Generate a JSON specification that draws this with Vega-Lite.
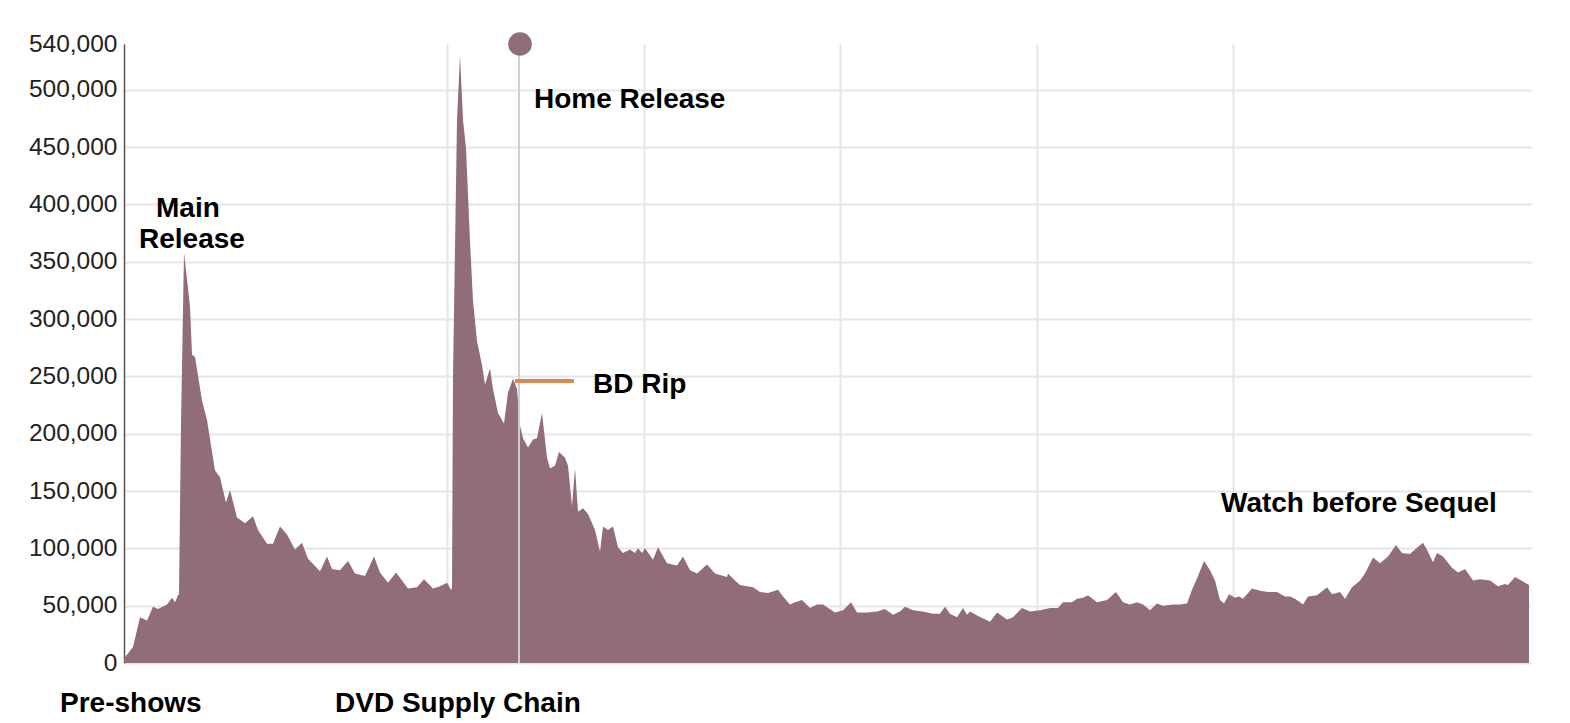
{
  "$schema": "https://vega.github.io/schema/vega-lite/v6.json",
  "width": 1407,
  "height": 619,
  "autosize": {"type": "none"},
  "padding": {"left": 124, "top": 44, "right": 39, "bottom": 60},
  "background": "white",
  "config": {"view": {"stroke": null}, "font": "Liberation Sans"},
  "datasets": {
    "series": [
      {"day":0,"views":4000},{"day":9,"views":14000},{"day":16,"views":40000},{"day":23,"views":37000},{"day":29,"views":49000},{"day":34,"views":47000},{"day":43,"views":51000},{"day":48,"views":57000},{"day":51,"views":53000},{"day":54,"views":59000},{"day":55,"views":60000},{"day":57,"views":209000},{"day":60,"views":358000},{"day":66,"views":311000},{"day":68,"views":269000},{"day":71,"views":267000},{"day":78,"views":229000},{"day":83,"views":212000},{"day":91,"views":168000},{"day":96,"views":162000},{"day":102,"views":140000},{"day":106,"views":151000},{"day":113,"views":127000},{"day":121,"views":122000},{"day":129,"views":128000},{"day":134,"views":116000},{"day":143,"views":104000},{"day":149,"views":104000},{"day":156,"views":119000},{"day":163,"views":112000},{"day":171,"views":99000},{"day":178,"views":105000},{"day":184,"views":91000},{"day":196,"views":80000},{"day":203,"views":93000},{"day":208,"views":82000},{"day":216,"views":81000},{"day":224,"views":89000},{"day":231,"views":78000},{"day":241,"views":76000},{"day":250,"views":93000},{"day":256,"views":79000},{"day":264,"views":70000},{"day":272,"views":79000},{"day":284,"views":65000},{"day":293,"views":66000},{"day":300,"views":73000},{"day":309,"views":65000},{"day":316,"views":67000},{"day":323,"views":70000},{"day":327,"views":64000},{"day":328,"views":65000},{"day":329,"views":250000},{"day":333,"views":474000},{"day":336,"views":530000},{"day":339,"views":474000},{"day":342,"views":449000},{"day":346,"views":368000},{"day":349,"views":316000},{"day":353,"views":281000},{"day":358,"views":260000},{"day":361,"views":243000},{"day":366,"views":257000},{"day":369,"views":239000},{"day":374,"views":218000},{"day":380,"views":209000},{"day":384,"views":236000},{"day":389,"views":248000},{"day":393,"views":239000},{"day":396,"views":207000},{"day":399,"views":196000},{"day":404,"views":188000},{"day":409,"views":195000},{"day":413,"views":196000},{"day":418,"views":218000},{"day":423,"views":179000},{"day":426,"views":170000},{"day":431,"views":172000},{"day":435,"views":184000},{"day":441,"views":179000},{"day":444,"views":172000},{"day":448,"views":137000},{"day":451,"views":170000},{"day":454,"views":132000},{"day":459,"views":135000},{"day":464,"views":130000},{"day":471,"views":116000},{"day":476,"views":97000},{"day":479,"views":119000},{"day":484,"views":116000},{"day":489,"views":119000},{"day":494,"views":101000},{"day":499,"views":96000},{"day":506,"views":99000},{"day":511,"views":96000},{"day":514,"views":100000},{"day":518,"views":96000},{"day":521,"views":100000},{"day":529,"views":90000},{"day":534,"views":101000},{"day":543,"views":87000},{"day":553,"views":85000},{"day":559,"views":93000},{"day":566,"views":81000},{"day":573,"views":78000},{"day":583,"views":86000},{"day":591,"views":78000},{"day":603,"views":75000},{"day":604,"views":78000},{"day":611,"views":72000},{"day":616,"views":68000},{"day":629,"views":66000},{"day":636,"views":62000},{"day":644,"views":61000},{"day":654,"views":64000},{"day":659,"views":58000},{"day":666,"views":51000},{"day":671,"views":53000},{"day":678,"views":55000},{"day":686,"views":48000},{"day":693,"views":51000},{"day":699,"views":51000},{"day":711,"views":44000},{"day":719,"views":46000},{"day":727,"views":53000},{"day":733,"views":44000},{"day":743,"views":44000},{"day":753,"views":45000},{"day":761,"views":47000},{"day":769,"views":42000},{"day":776,"views":45000},{"day":781,"views":49000},{"day":789,"views":46000},{"day":799,"views":45000},{"day":809,"views":43000},{"day":816,"views":43000},{"day":821,"views":49000},{"day":826,"views":43000},{"day":833,"views":40000},{"day":839,"views":48000},{"day":843,"views":42000},{"day":846,"views":45000},{"day":854,"views":41000},{"day":866,"views":36000},{"day":873,"views":44000},{"day":883,"views":38000},{"day":889,"views":40000},{"day":898,"views":48000},{"day":906,"views":45000},{"day":916,"views":46000},{"day":926,"views":48000},{"day":934,"views":48000},{"day":939,"views":53000},{"day":948,"views":53000},{"day":953,"views":56000},{"day":959,"views":57000},{"day":964,"views":59000},{"day":973,"views":53000},{"day":983,"views":55000},{"day":992,"views":62000},{"day":999,"views":53000},{"day":1006,"views":51000},{"day":1013,"views":53000},{"day":1019,"views":51000},{"day":1026,"views":46000},{"day":1033,"views":52000},{"day":1039,"views":50000},{"day":1049,"views":51000},{"day":1056,"views":51000},{"day":1063,"views":52000},{"day":1068,"views":64000},{"day":1074,"views":76000},{"day":1080,"views":89000},{"day":1086,"views":81000},{"day":1091,"views":72000},{"day":1096,"views":55000},{"day":1100,"views":52000},{"day":1105,"views":60000},{"day":1111,"views":57000},{"day":1115,"views":58000},{"day":1119,"views":56000},{"day":1128,"views":65000},{"day":1136,"views":63000},{"day":1144,"views":62000},{"day":1153,"views":62000},{"day":1161,"views":58000},{"day":1166,"views":58000},{"day":1171,"views":56000},{"day":1179,"views":51000},{"day":1184,"views":58000},{"day":1193,"views":59000},{"day":1203,"views":66000},{"day":1208,"views":60000},{"day":1216,"views":62000},{"day":1221,"views":56000},{"day":1228,"views":66000},{"day":1236,"views":72000},{"day":1241,"views":78000},{"day":1249,"views":92000},{"day":1256,"views":87000},{"day":1264,"views":93000},{"day":1272,"views":103000},{"day":1278,"views":96000},{"day":1286,"views":95000},{"day":1291,"views":99000},{"day":1299,"views":105000},{"day":1304,"views":97000},{"day":1309,"views":88000},{"day":1313,"views":96000},{"day":1319,"views":93000},{"day":1328,"views":83000},{"day":1334,"views":79000},{"day":1341,"views":82000},{"day":1349,"views":72000},{"day":1356,"views":73000},{"day":1366,"views":72000},{"day":1374,"views":67000},{"day":1381,"views":69000},{"day":1384,"views":68000},{"day":1391,"views":75000},{"day":1399,"views":71000},{"day":1405,"views":68000}
    ],
    "home": [{"day": 395, "views": 0, "views2": 540000}],
    "dot": [{"day": 396, "views": 540000}],
    "bdrip": [{"day": 391, "day2": 450, "views": 246000}],
    "labels": [
      {"day": 32, "views": 389000, "label": "Main"},
      {"day": 15, "views": 362000, "label": "Release"},
      {"day": 410, "views": 484000, "label": "Home Release"},
      {"day": 469, "views": 235500, "label": "BD Rip"},
      {"day": 1097, "views": 131700, "label": "Watch before Sequel"},
      {"day": -64, "views": -42700, "label": "Pre-shows"},
      {"day": 211, "views": -42700, "label": "DVD Supply Chain"}
    ]
  },
  "encoding": {
    "x": {
      "field": "day", "type": "quantitative",
      "scale": {"domain": [0, 1407], "nice": false, "zero": false},
      "axis": {"values": [323, 520, 716, 913, 1109], "labels": false, "ticks": false, "domain": false, "grid": true, "gridColor": "#e6e6e6", "gridWidth": 2, "title": null}
    },
    "y": {
      "field": "views", "type": "quantitative",
      "scale": {"domain": [0, 540000], "nice": false},
      "axis": {
        "values": [0, 50000, 100000, 150000, 200000, 250000, 300000, 350000, 400000, 450000, 500000, 540000],
        "format": ",d", "title": null, "ticks": false, "labelPadding": 7,
        "labelFontSize": 24.5, "labelColor": "#222222", "labelFont": "Liberation Sans",
        "domainColor": "#555555", "domainWidth": 1.5,
        "grid": true, "gridColor": "#e6e6e6", "gridWidth": 2,
        "gridOpacity": {"condition": {"test": "datum.value >= 540000", "value": 0}, "value": 1}
      }
    }
  },
  "layer": [
    {
      "data": {"name": "series"},
      "mark": {"type": "area", "color": "#916d7a", "opacity": 1, "interpolate": "linear"}
    },
    {
      "data": {"name": "home"},
      "mark": {"type": "rule", "color": "#cfcfcf", "strokeWidth": 2},
      "encoding": {"y2": {"field": "views2"}}
    },
    {
      "data": {"name": "dot"},
      "mark": {"type": "point", "filled": true, "shape": "circle", "color": "#916d7a", "opacity": 1, "size": 560}
    },
    {
      "data": {"name": "bdrip"},
      "mark": {"type": "rule", "color": "#dd8a52", "strokeWidth": 4},
      "encoding": {"x2": {"field": "day2"}}
    },
    {
      "data": {"name": "labels"},
      "mark": {"type": "text", "align": "left", "baseline": "alphabetic", "font": "Liberation Sans", "fontWeight": "bold", "fontSize": 28, "color": "#000000"},
      "encoding": {"text": {"field": "label"}}
    }
  ]
}
